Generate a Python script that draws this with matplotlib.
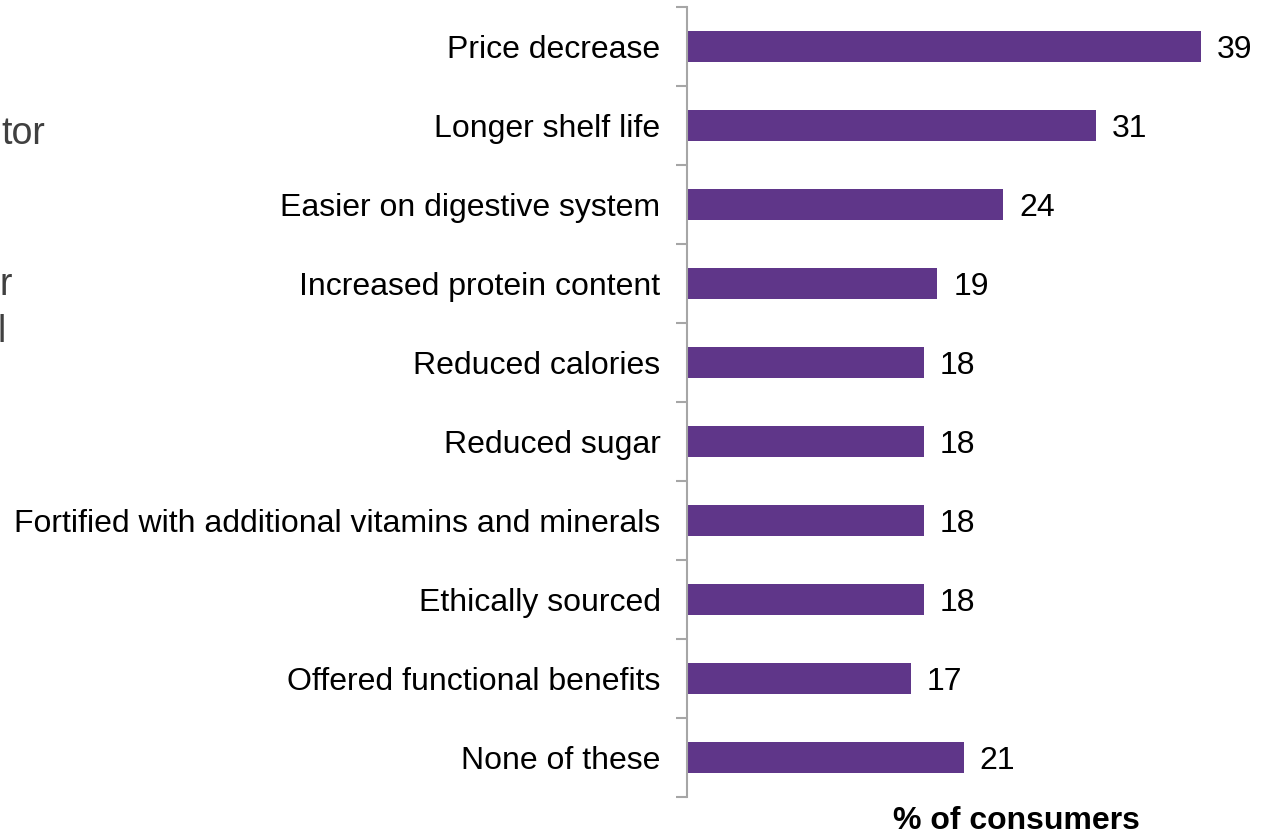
import matplotlib.pyplot as plt
import numpy as np

plt.rcParams['font.family'] = ['Liberation Sans', 'DejaVu Sans']

# ------------------------- data ---------------------------
categories = ['Price decrease', 'Longer shelf life', 'Easier on digestive system',
              'Increased protein content', 'Reduced calories', 'Reduced sugar',
              'Fortified with additional vitamins and minerals', 'Ethically sourced',
              'Offered functional benefits', 'None of these']
values = [39, 31, 24, 19, 18, 18, 18, 18, 17, 21]

bar_color = '#5f3689'
axis_color = '#a6a6a6'

fig = plt.figure(figsize=(12.76, 8.36), dpi=100)
ax = fig.add_axes([687 / 1276, 39 / 836, 575 / 1276, 790 / 836])

y = np.arange(len(categories))
ax.barh(y, values, height=0.39, color=bar_color)
for yi, v in zip(y, values):
    ax.text(v + 1.2, yi, str(v), va='center_baseline', ha='left', fontsize=23, color='black')

ax.set_xlim(0, 575 / 13.18)
ax.set_ylim(len(categories) - 0.5, -0.5)

# category labels on major ticks, boundary ticks as minor
ax.set_yticks(y)
ax.set_yticklabels(categories, fontsize=23)
ax.tick_params(axis='y', which='major', length=0, pad=19)
ax.set_yticks(np.arange(len(categories) + 1) - 0.5, minor=True)
ax.tick_params(axis='y', which='minor', length=8, width=1.5, color=axis_color)
ax.set_xticks([])

for s in ['top', 'right', 'bottom']:
    ax.spines[s].set_visible(False)
ax.spines['left'].set_color(axis_color)
ax.spines['left'].set_linewidth(1.5)

fig.text(1016 / 1276, 1 - 821 / 836, '% of consumers', ha='center', va='center',
         fontsize=23, fontweight='bold')

# pieces of the side text that run off the left edge
fig.text(45 / 1276, 1 - 134 / 836, 'tor', ha='right', va='center', fontsize=27, color='#404040')
fig.text(12 / 1276, 1 - 285 / 836, 'r', ha='right', va='center', fontsize=27, color='#404040')
fig.text(-2 / 1276, 1 - 332 / 836, 'l', ha='left', va='center', fontsize=27, color='#404040')

fig.savefig('out.png', dpi=100)
